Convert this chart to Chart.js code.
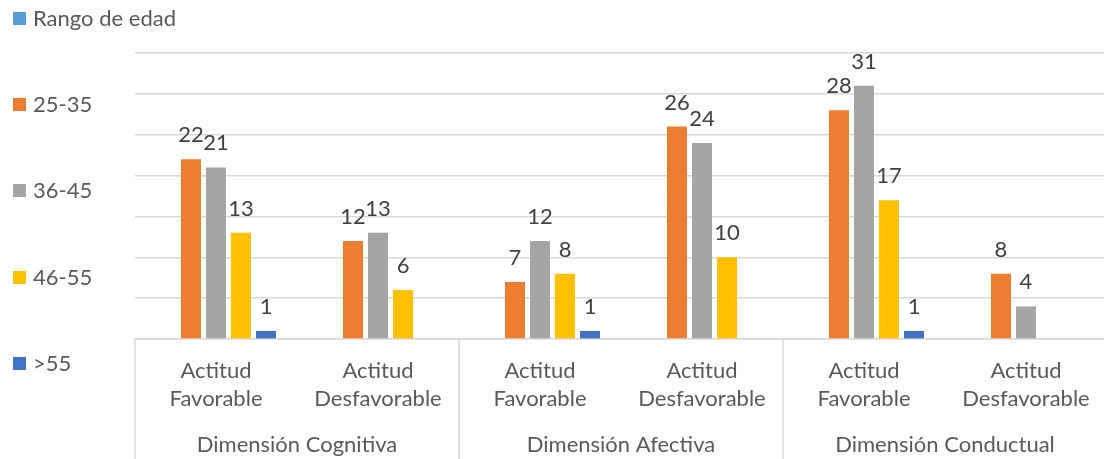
<!DOCTYPE html>
<html>
<head>
<meta charset="utf-8">
<script src="https://cdn.jsdelivr.net/npm/chart.js@4"></script>
<style>
  html, body { margin: 0; padding: 0; background: #fff; overflow: hidden; }
  body { width: 1104px; height: 459px; position: relative; font-family: Lato, "Open Sans", sans-serif; }
  #wrap { position: absolute; left: 0; top: 0; width: 1107px; height: 459px; }
  #legend { position: absolute; left: 0; top: 0; width: 200px; height: 459px; pointer-events: none; }
  .li { position: absolute; left: 13px; display: flex; align-items: center; font-size: 22px; color: #595959; line-height: 26px; white-space: nowrap; }
  .sw { width: 13px; height: 13px; margin-right: 7px; display: inline-block; }
</style>
</head>
<body>
<div id="wrap"><canvas id="c"></canvas></div>
<div id="legend"></div>
<script>
const categories = [
  ["Actitud", "Favorable"], ["Actitud", "Desfavorable"],
  ["Actitud", "Favorable"], ["Actitud", "Desfavorable"],
  ["Actitud", "Favorable"], ["Actitud", "Desfavorable"]
];
const groups = ["Dimensión Cognitiva", "Dimensión Afectiva", "Dimensión Conductual"];
const groupSpan = 2;
const seriesNames = ["Rango de edad", "25-35", "36-45", "46-55", ">55"];
const seriesColors = ["#5B9BD5", "#ED7D31", "#A5A5A5", "#FFC000", "#4472C4"];
const rangoDeEdad = [null, null, null, null, null, null];
const edad25_35 = [22, 12, 7, 26, 28, 8];
const edad36_45 = [21, 13, 12, 24, 31, 4];
const edad46_55 = [13, 6, 8, 10, 17, null];
const edadMas55 = [1, null, 1, null, 1, null];
const seriesValues = [rangoDeEdad, edad25_35, edad36_45, edad46_55, edadMas55];
const yMin = 0, yMax = 35, yStep = 5;

const FONT = "Lato, 'Open Sans', sans-serif";

// HTML legend
const legendTops = [18, 104, 190, 277, 363];
const legendEl = document.getElementById('legend');
seriesNames.forEach((n, i) => {
  const d = document.createElement('div');
  d.className = 'li';
  d.style.top = (legendTops[i] - 13) + 'px';
  d.innerHTML = '<span class="sw" style="background:' + seriesColors[i] + '"></span><span></span>';
  d.lastChild.textContent = n;
  legendEl.appendChild(d);
});

const valueLabels = {
  id: 'valueLabels',
  afterDatasetsDraw(chart) {
    const ctx = chart.ctx;
    ctx.save();
    ctx.font = "22px " + FONT;
    ctx.fillStyle = "#404040";
    ctx.textAlign = "center";
    ctx.textBaseline = "alphabetic";
    chart.data.datasets.forEach((ds, di) => {
      const meta = chart.getDatasetMeta(di);
      meta.data.forEach((bar, i) => {
        const v = ds.data[i];
        if (v === null || v === undefined) return;
        ctx.fillText(String(v), bar.x, bar.y - 17);
      });
    });
    ctx.restore();
  }
};

const groupAxis = {
  id: 'groupAxis',
  afterDraw(chart) {
    const ctx = chart.ctx;
    const x = chart.scales.x;
    const area = chart.chartArea;
    const half = (x.getPixelForValue(1) - x.getPixelForValue(0)) / 2;
    ctx.save();
    ctx.strokeStyle = "#d9d9d9";
    ctx.lineWidth = 1.5;
    for (let g = 0; g <= groups.length; g++) {
      const idx = g * groupSpan;
      const px = idx < categories.length ? x.getPixelForValue(idx) - half : x.getPixelForValue(categories.length - 1) + half;
      ctx.beginPath();
      ctx.moveTo(px, area.bottom);
      ctx.lineTo(px, chart.height);
      ctx.stroke();
    }
    ctx.font = "22px " + FONT;
    ctx.fillStyle = "#595959";
    ctx.textAlign = "center";
    ctx.textBaseline = "middle";
    groups.forEach((gname, g) => {
      const a = x.getPixelForValue(g * groupSpan) - half;
      const b = x.getPixelForValue(g * groupSpan + groupSpan - 1) + half;
      ctx.fillText(gname, (a + b) / 2, 445);
    });
    ctx.restore();
  }
};

new Chart(document.getElementById('c'), {
  type: 'bar',
  data: {
    labels: categories,
    datasets: seriesNames.map((n, i) => ({
      label: n,
      data: seriesValues[i],
      backgroundColor: seriesColors[i],
      borderWidth: 0,
      categoryPercentage: 0.772,
      barPercentage: 0.8
    }))
  },
  options: {
    responsive: true,
    maintainAspectRatio: false,
    animation: false,
    events: [],
    layout: { padding: { left: 135, right: 0, top: 53, bottom: 36 } },
    plugins: { legend: { display: false }, tooltip: { enabled: false } },
    scales: {
      x: {
        grid: { display: false },
        border: { display: true, color: "#d9d9d9", width: 1.5 },
        ticks: { color: "#595959", font: { family: FONT, size: 22, lineHeight: 1.27 }, padding: 10, maxRotation: 0, autoSkip: false }
      },
      y: {
        min: yMin, max: yMax,
        ticks: { display: false, stepSize: yStep },
        grid: { color: "#d9d9d9", lineWidth: 1.5, drawTicks: false },
        border: { display: false }
      }
    }
  },
  plugins: [valueLabels, groupAxis]
});
</script>
</body>
</html>
